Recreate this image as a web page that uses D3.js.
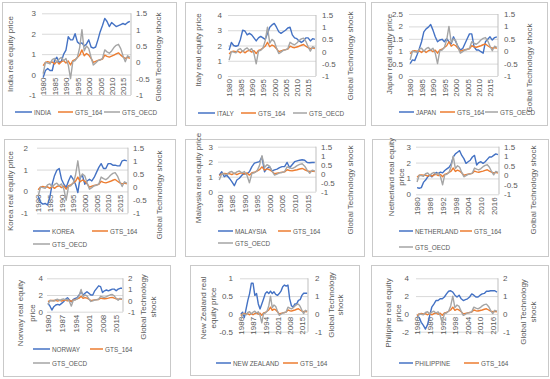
<!DOCTYPE html>
<html>
<head>
<meta charset="utf-8">
<script src="https://cdn.jsdelivr.net/npm/d3@7"></script>
<style>
body { margin: 0; background: #fff; }
svg text { font-family: "Liberation Sans", Arial, sans-serif; fill: #595959; }
</style>
</head>
<body>
<div id="container"></div>
<script>
// categories
const years = [1980,1981,1982,1983,1984,1985,1986,1987,1988,1989,
               1990,1991,1992,1993,1994,1995,1996,1997,1998,1999,
               2000,2001,2002,2003,2004,2005,2006,2007,2008,2009,
               2010,2011,2012,2013,2014,2015,2016,2017,2018];

// global technology shocks (right axis, same in every panel)
const gts164 = [-0.1,0.0,0.02,0.0,0.01,-0.05,0.03,-0.05,0.02,0.05,
                -0.02,0.04,-0.08,0.05,0.08,0.15,0.22,0.38,0.2,0.27,
                0.22,0.12,0.0,0.03,0.06,0.08,0.1,0.22,0.18,0.16,
                0.19,0.22,0.26,0.29,0.22,0.16,0.12,0.15,0.12];
const gtsOecd = [-0.35,0.0,-0.02,-0.05,0.08,0.12,0.0,0.1,0.15,0.05,
                 0.12,-0.08,-0.5,0.02,0.05,0.15,0.45,1.0,0.35,0.5,
                 0.42,0.15,-0.08,-0.02,0.05,0.07,0.12,0.38,0.32,0.28,
                 0.35,0.45,0.52,0.55,0.42,0.2,0.02,0.2,0.15];

// real equity prices (left axis)
const india = [-0.15,0.2,0.3,0.2,0.2,0.7,0.85,0.6,0.65,1.0,
               1.2,1.85,1.7,1.7,2.0,1.6,1.5,1.55,1.4,1.5,
               1.7,1.35,1.3,1.35,1.7,2.1,2.4,2.75,2.6,2.35,
               2.55,2.45,2.35,2.4,2.45,2.5,2.45,2.55,2.6];
const italy = [1.7,2.2,2.0,1.95,2.0,2.4,3.0,2.95,2.7,2.8,
               2.7,2.5,2.3,2.5,2.6,2.5,2.4,2.8,3.2,3.35,
               3.45,3.2,2.9,2.8,2.9,3.0,3.15,3.2,2.7,2.5,
               2.45,2.3,2.2,2.3,2.5,2.5,2.3,2.45,2.4];
const japan = [0.5,0.65,0.62,0.85,1.1,1.38,1.78,1.9,1.97,2.08,
               1.85,1.58,1.38,1.45,1.48,1.38,1.5,1.38,1.3,1.58,
               1.38,1.18,1.05,1.1,1.3,1.5,1.7,1.7,1.18,1.05,
               1.05,0.98,0.92,1.38,1.48,1.58,1.45,1.55,1.58];
const korea = [-0.2,-0.5,-0.58,-0.55,-0.62,-0.27,0.33,0.72,0.97,1.05,
               0.56,0.33,0.18,0.48,0.72,0.56,0.33,-0.05,0.64,0.72,
               0.33,0.48,0.56,0.48,0.64,0.87,1.1,1.27,1.05,1.05,
               1.27,1.27,1.2,1.2,1.17,1.17,1.4,1.43,1.4];
const malaysia = [1.1,1.33,1.0,1.1,0.9,0.67,0.4,0.78,0.9,1.1,
                  1.2,1.2,1.33,1.67,1.9,1.95,2.0,2.33,1.33,1.55,
                  1.67,1.38,1.45,1.5,1.6,1.67,1.67,1.95,1.6,1.8,
                  2.0,2.05,2.1,2.13,2.1,1.95,1.93,1.95,1.95];
const netherland = [0.42,0.38,0.42,0.75,0.9,1.1,1.2,1.1,1.25,1.38,
                    1.3,1.4,1.35,1.5,1.6,1.7,1.9,2.35,2.55,2.65,
                    2.75,2.45,2.25,1.95,2.05,2.15,2.35,2.45,1.85,2.0,
                    2.05,1.95,2.05,2.2,2.35,2.35,2.45,2.55,2.5];
const norway = [1.0,0.68,0.2,0.6,0.8,0.88,0.8,1.0,1.2,1.48,
                1.68,1.4,1.2,1.48,1.6,1.68,2.0,2.4,2.0,2.2,
                2.4,2.2,2.0,2.0,2.5,2.8,3.1,3.0,2.3,2.5,
                2.6,2.5,2.6,2.7,2.7,2.5,2.7,2.8,2.8];
const newZealand = [0.0,0.05,-0.1,0.14,0.38,0.57,0.86,0.86,0.52,0.57,
                    0.28,0.14,0.28,0.42,0.57,0.62,0.57,0.64,0.57,0.62,
                    0.55,0.52,0.57,0.64,0.76,0.81,0.78,0.81,0.42,0.23,
                    0.19,0.28,0.28,0.38,0.4,0.52,0.58,0.58,0.58];
const philippine = [-0.2,-0.4,-0.95,-1.3,-1.7,-1.2,-0.2,0.75,1.1,1.5,
                    1.5,1.7,1.7,1.9,2.25,2.55,2.6,2.45,2.1,1.9,
                    2.1,1.7,1.5,1.6,1.7,1.9,2.25,2.1,1.9,1.9,
                    2.1,2.25,2.3,2.55,2.55,2.6,2.6,2.6,2.45];

// tick labels
const indiaTicks = [-1,0,1,2,3];
const italyTicks = [0,1,2,3,4];
const japanTicks = [0,0.5,1,1.5,2,2.5];
const koreaTicks = [-1,0,1,2];
const zeroToThree = [0,1,2,3];
const norwayTicks = [0,2,4];
const nzTicks = [-0.5,0,0.5,1];
const philTicks = [-2,0,2,4];
const gtsTicksA = [-1,-0.5,0,0.5,1,1.5];
const gtsTicksB = [-1,0,1,2];
const yearTicks5 = [1980,1985,1990,1995,2000,2005,2010,2015];
const yearTicks6 = [1980,1986,1992,1998,2004,2010,2016];
const yearTicks7 = [1980,1987,1994,2001,2008,2015];

const colors = {country: "#4472C4", g164: "#ED7D31", oecd: "#A5A5A5"};

// one entry per small chart: data + where it sits on the page
let panels = [
  {name: "INDIA", values: india, lt: indiaTicks, rt: gtsTicksA, yt: yearTicks5,
   box: [2,2,176,125], plot: [42,131,13.3,95], labL: 36, labR: 136,
   titleL: {lines: ["India real equity price"], xs: [10], cy: 54},
   titleR: {lines: ["Global Technology shock"], xs: [158], cy: 57},
   legend: [[15,32,112,"country"],[58,73,112,"g164"],[104,120,112,"oecd"]]},
  {name: "ITALY", values: italy, lt: italyTicks, rt: gtsTicksA, yt: yearTicks5,
   box: [185,2,365,125], plot: [228,316,15,76], labL: 222, labR: 322,
   titleL: {lines: ["Italy real equity price"], xs: [198], cy: 50},
   titleR: {lines: ["Global Technology shock"], xs: [350], cy: 56},
   legend: [[198,215,113,"country"],[241,256,113,"g164"],[293,307,113,"oecd"]]},
  {name: "JAPAN", values: japan, lt: japanTicks, rt: gtsTicksA, yt: yearTicks5,
   box: [371,2,547,125], plot: [409,498,14,76], labL: 403, labR: 504,
   titleL: {lines: ["Japan real equity price"], xs: [389], cy: 54},
   titleR: {lines: ["Golbal Technology shock"], xs: [529], cy: 68},
   legend: [[399,414,112,"country"],[440,455,112,"g164"],[485,498,112,"oecd"]]},
  {name: "KOREA", values: korea, lt: koreaTicks, rt: gtsTicksA, yt: yearTicks5,
   box: [4,139,175,256], plot: [37,128,147.7,213.3], labL: 28, labR: 133,
   titleL: {lines: ["Korea real equity price"], xs: [10], cy: 191},
   titleR: {lines: ["Global Technology shock"], xs: [159], cy: 195},
   legend: [[33,50,231,"country"],[92,108,231,"g164"],[33,50,244,"oecd"]]},
  {name: "MALAYSIA", values: malaysia, lt: zeroToThree, rt: gtsTicksA, yt: yearTicks5,
   box: [185,139,364,256], plot: [218,316,146.7,191.7], labL: 213, labR: 321,
   titleL: {lines: ["Malaysia real equity price"], xs: [198], cy: 178},
   titleR: {lines: ["Global Technology shock"], xs: [350], cy: 190},
   legend: [[218,233,231,"country"],[278,291,231,"g164"],[218,233,243,"oecd"]]},
  {name: "NETHERLAND", values: netherland, lt: zeroToThree, rt: gtsTicksA, yt: yearTicks6,
   box: [372,139,548,256], plot: [416,499,146.7,194.3], labL: 411, labR: 504,
   titleL: {lines: ["Netherland real equity", "price"], xs: [391,401], cy: 177},
   titleR: {lines: ["Golbal Technology shock"], xs: [533], cy: 190},
   legend: [[399,413,231,"country"],[460,472,231,"g164"],[399,413,247,"oecd"]]},
  {name: "NORWAY", values: norway, lt: norwayTicks, rt: gtsTicksB, yt: yearTicks7,
   box: [3,265,170,376], plot: [47,123,278.3,311.7], labL: 43, labR: 128,
   titleL: {lines: ["Norway real equity", "price"], xs: [20,32], cy: 313},
   titleR: {lines: ["Global Technology", "shock"], xs: [143,153], cy: 307},
   legend: [[33,50,349,"country"],[90,103,349,"g164"],[33,50,363,"oecd"]]},
  {name: "NEW ZEALAND", values: newZealand, lt: nzTicks, rt: gtsTicksB, yt: yearTicks7,
   box: [190,265,359,375], plot: [240,308,278.3,331.7], labL: 233, labR: 315,
   titleL: {lines: ["New Zealand real", "equity price"], xs: [203,213], cy: 308},
   titleR: {lines: ["Global Technology", "shock"], xs: [331,340], cy: 305},
   legend: [[216,231,363,"country"],[283,298,363,"g164"]]},
  {name: "PHILIPPINE", values: philippine, lt: philTicks, rt: gtsTicksB, yt: yearTicks6,
   box: [371,265,548,376], plot: [416,498,278.3,331.7], labL: 409, labR: 503,
   titleL: {lines: ["Philipine real equity", "price"], xs: [388,398], cy: 313},
   titleR: {lines: ["Global Technology", "shock"], xs: [523,533], cy: 312},
   legend: [[399,413,363,"country"],[464,479,363,"g164"]]}
];

let svg = d3.select("#container").append("svg")
    .attr("width", 550)
    .attr("height", 379);

panels.forEach(function(p) {
    let g = svg.append("g");
    let [l, r, t, b] = p.plot;

    g.append("rect")
        .attr("x", p.box[0] + 0.5).attr("y", p.box[1] + 0.5)
        .attr("width", p.box[2] - p.box[0]).attr("height", p.box[3] - p.box[1])
        .attr("fill", "#fff").attr("stroke", "#c9c9c9");

    let x = d3.scalePoint().domain(years).range([l, r]).padding(0.5);
    let yL = d3.scaleLinear().domain(d3.extent(p.lt)).range([b, t]);
    let yR = d3.scaleLinear().domain(d3.extent(p.rt)).range([b, t]);

    // gridlines
    g.append("g")
        .attr("transform", `translate(${l},0)`)
        .call(d3.axisLeft(yL).tickValues(p.lt).tickSize(-(r - l)).tickFormat(""))
        .call(a => a.select(".domain").remove())
        .call(a => a.selectAll("line").attr("stroke", "#d9d9d9"));

    // secondary axis line
    g.append("line")
        .attr("x1", r).attr("x2", r).attr("y1", t).attr("y2", b)
        .attr("stroke", "#bfbfbf");

    // left tick labels
    g.append("g")
        .attr("transform", `translate(${p.labL},0)`)
        .call(d3.axisLeft(yL).tickValues(p.lt).tickSize(0).tickPadding(0).tickFormat(d => String(d)))
        .call(a => a.select(".domain").remove())
        .call(a => a.selectAll("text").attr("font-size", 8).attr("fill", "#595959"));

    // right tick labels
    g.append("g")
        .attr("transform", `translate(${p.labR},0)`)
        .call(d3.axisRight(yR).tickValues(p.rt).tickSize(0).tickPadding(0).tickFormat(d => String(d)))
        .call(a => a.select(".domain").remove())
        .call(a => a.selectAll("text").attr("font-size", 8).attr("fill", "#595959"));

    // year labels, hanging under the zero line
    g.append("g")
        .attr("transform", `translate(0,${yL(0)})`)
        .call(d3.axisBottom(x).tickValues(p.yt).tickSize(0))
        .call(a => a.select(".domain").remove())
        .call(a => a.selectAll("text")
            .attr("font-size", 8).attr("fill", "#595959")
            .attr("transform", "rotate(-90)")
            .attr("x", -3).attr("y", 0).attr("dy", "0.35em")
            .style("text-anchor", "end"));

    // axis titles
    [p.titleL, p.titleR].forEach(function(tt) {
        tt.lines.forEach(function(line, i) {
            g.append("text")
                .attr("transform", `translate(${tt.xs[i]},${tt.cy}) rotate(-90)`)
                .attr("text-anchor", "middle")
                .attr("dy", "0.35em")
                .attr("font-size", 8)
                .text(line);
        });
    });

    // series
    let series = [
        {key: "country", vals: p.values, y: yL},
        {key: "g164", vals: gts164, y: yR},
        {key: "oecd", vals: gtsOecd, y: yR}
    ];
    series.forEach(function(s) {
        let line = d3.line()
            .x((d, i) => x(years[i]))
            .y(d => s.y(d));
        g.append("path")
            .attr("d", line(s.vals))
            .attr("fill", "none")
            .attr("stroke", colors[s.key])
            .attr("stroke-width", 1.4)
            .attr("stroke-linejoin", "round");
    });

    // legend (text squeezed a bit, the original font is narrower)
    let names = {country: p.name, g164: "GTS_164", oecd: "GTS_OECD"};
    p.legend.forEach(function(e) {
        g.append("line")
            .attr("x1", e[0]).attr("x2", e[1]).attr("y1", e[2]).attr("y2", e[2])
            .attr("stroke", colors[e[3]]).attr("stroke-width", 1.5);
        g.append("text")
            .attr("transform", `translate(${e[1] + 2},${e[2]}) scale(0.8,1)`)
            .attr("dy", "0.35em")
            .attr("font-size", 8)
            .text(names[e[3]]);
    });
});
</script>
</body>
</html>
